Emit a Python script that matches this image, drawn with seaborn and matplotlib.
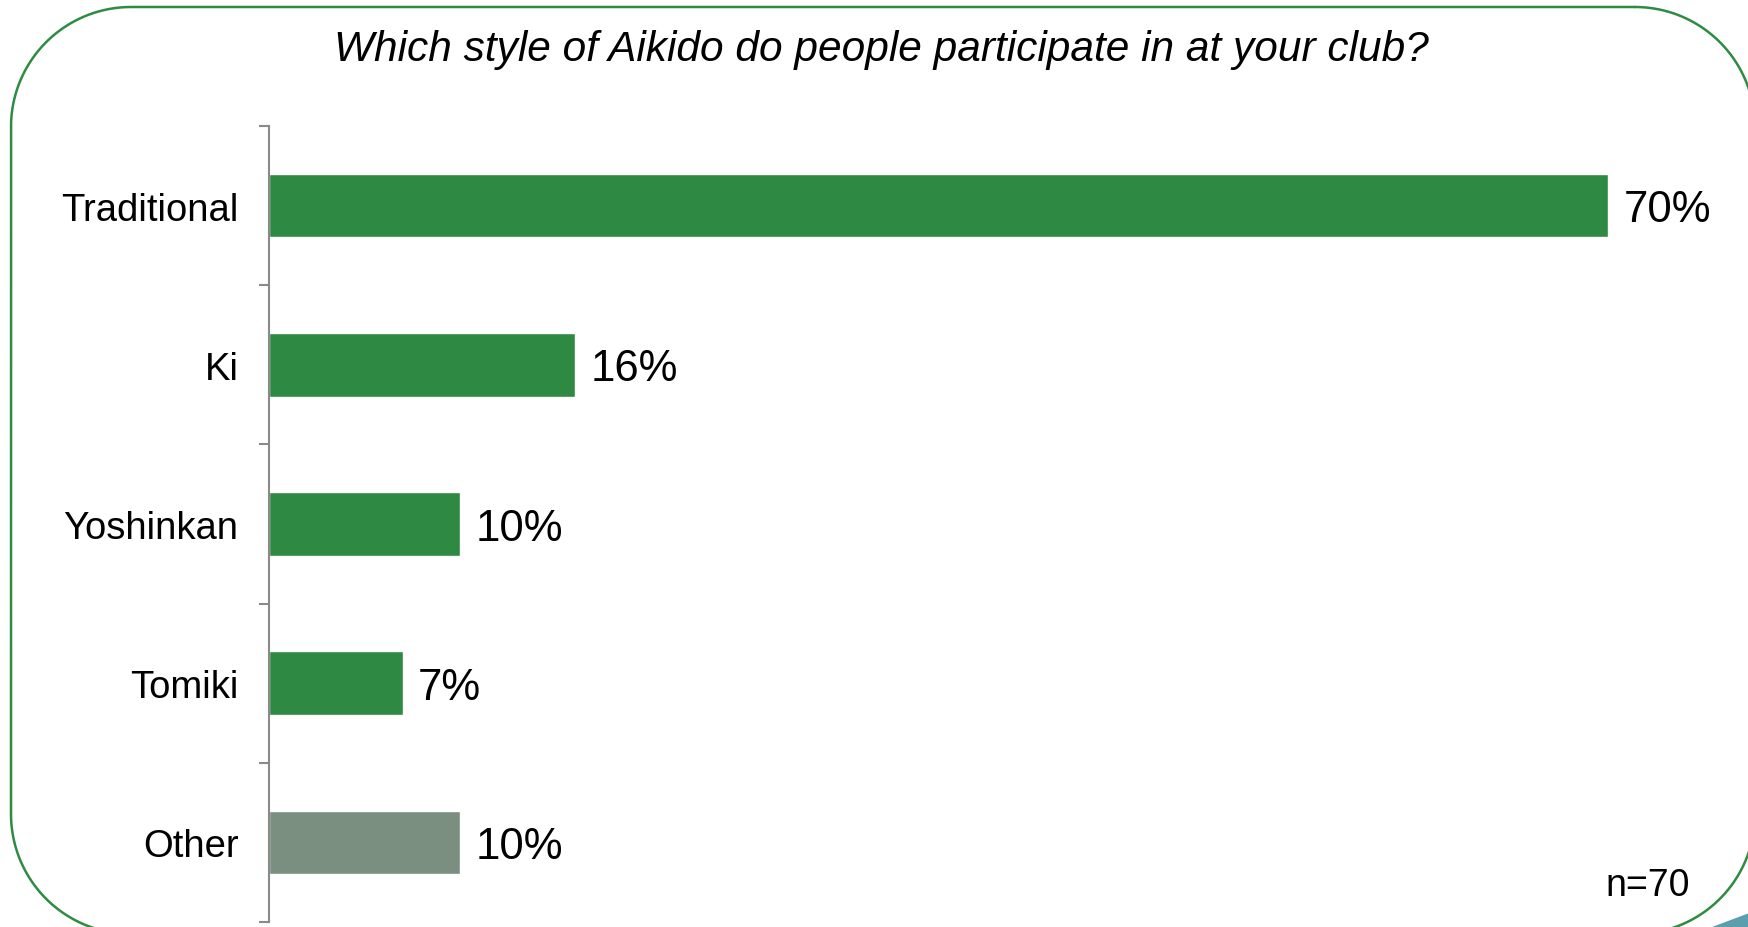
import matplotlib
matplotlib.use("Agg")
import matplotlib.pyplot as plt
import matplotlib.patches as mpatches
from matplotlib.lines import Line2D
from matplotlib.transforms import IdentityTransform
from matplotlib.ticker import FixedLocator
import seaborn as sns
import pandas as pd
import numpy as np

title = "Which style of Aikido do people participate in at your club?"
styles = ["Traditional", "Ki", "Yoshinkan", "Tomiki", "Other"]
shares = [70, 16, 10, 7, 10]
bar_colors = ["#2e8942", "#2e8942", "#2e8942", "#2e8942", "#7a8f80"]
sample_note = "n=70"

W, H = 1749, 928

sns.set_theme(style="white")
plt.rcParams['font.family'] = ['Liberation Sans', 'DejaVu Sans']

fig = plt.figure(figsize=(W / 100, H / 100), dpi=100)


def rounded_outline(left, top, right, bottom, r, n=40):
    # pixel box, y measured from the top of the image
    pts = []
    corners = [(right - r, top + r, -90, 0), (right - r, bottom - r, 0, 90),
               (left + r, bottom - r, 90, 180), (left + r, top + r, 180, 270)]
    for cx, cy, a0, a1 in corners:
        a = np.radians(np.linspace(a0, a1, n))
        pts.extend(zip(cx + r * np.cos(a), cy + r * np.sin(a)))
    pts.append(pts[0])
    xs = np.array([p[0] for p in pts])
    ys = H - np.array([p[1] for p in pts])
    return xs, ys


fx, fy = rounded_outline(11, 8, 1755, 935, 120)
fig.add_artist(Line2D(fx, fy, transform=IdentityTransform(), color="#2e8b42",
                      linewidth=1.8))

# teal sliver in the bottom right corner
fig.patches.append(mpatches.Polygon(
    [(1712 / W, 0), (1760 / W, 0), (1760 / W, 18 / H)],
    closed=True, transform=fig.transFigure, facecolor="#5b9fae",
    edgecolor="none"))

ax = fig.add_axes([269 / W, 5 / H, (W - 269) / W, (923 - 127) / H])
ax.patch.set_alpha(0)

df = pd.DataFrame({"style": styles, "share": shares})
sns.barplot(data=df, x="share", y="style", hue="style", palette=bar_colors,
            legend=False, width=0.4, ax=ax, saturation=1)

ax.set_xlim(0, (W - 269) / 19.13)
ax.set_ylim(4.5, -0.5)
ax.set_xlabel("")
ax.set_ylabel("")
ax.set_xticks([])

for s in ["top", "right", "bottom"]:
    ax.spines[s].set_visible(False)
ax.spines["left"].set_color("#8a8a8a")
ax.spines["left"].set_linewidth(1.5)

ax.yaxis.set_minor_locator(FixedLocator([i - 0.5 for i in range(len(styles) + 1)]))
ax.tick_params(axis="y", which="major", length=0, pad=22, labelsize=27.5,
               labelcolor="black")
ax.tick_params(axis="y", which="minor", left=True, length=7, width=1.5,
               color="#8a8a8a", direction="out")

for i, v in enumerate(shares):
    ax.annotate(f"{v}%", xy=(v, i), xytext=(11, -3), textcoords="offset points",
                ha="left", va="center", fontsize=31.5, color="black")

fig.text(881 / W, 1 - 50 / H, title, ha="center", va="center",
         fontsize=30.5, style="italic", color="black")
fig.text(1690 / W, 1 - 886 / H, sample_note, ha="right", va="center",
         fontsize=27, color="black")

fig.savefig("out.png", dpi=100)
